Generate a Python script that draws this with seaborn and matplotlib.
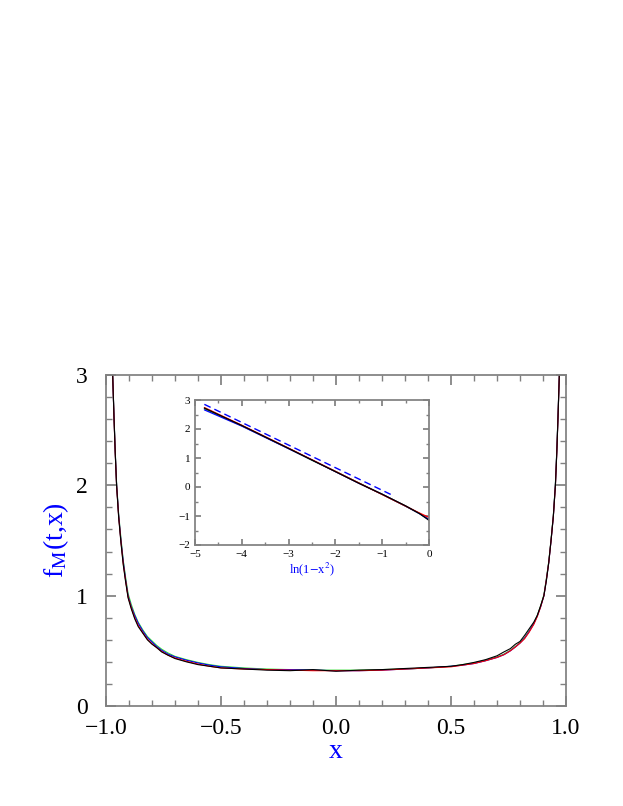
import numpy as np
import pandas as pd
import matplotlib
matplotlib.use("Agg")
import matplotlib.pyplot as plt
import seaborn as sns
from matplotlib.ticker import MultipleLocator

sns.set_theme(style="ticks")
plt.rcParams['font.family'] = ['Liberation Serif', 'DejaVu Serif']
plt.rcParams['mathtext.fontset'] = 'stix'

x_main = [-0.975, -0.971, -0.965, -0.96, -0.954, -0.945, -0.935, -0.925, -0.915, -0.904,
          -0.89, -0.875, -0.86, -0.84, -0.82, -0.8, -0.78, -0.758, -0.73, -0.7,
          -0.65, -0.6, -0.55, -0.5, -0.4, -0.3, -0.2, -0.1, 0.0,
          0.1, 0.2, 0.3, 0.4, 0.5, 0.55, 0.6, 0.65, 0.7, 0.73,
          0.758, 0.78, 0.8, 0.82, 0.84, 0.86, 0.875, 0.89, 0.904, 0.915,
          0.925, 0.935, 0.945, 0.954, 0.96, 0.965, 0.971, 0.975]
y_black = [3.4, 3.0, 2.6, 2.3, 2.0, 1.71, 1.48, 1.28, 1.13, 0.98,
           0.88, 0.79, 0.72, 0.66, 0.6, 0.56, 0.53, 0.49, 0.46, 0.43,
           0.4, 0.375, 0.36, 0.345, 0.335, 0.325, 0.32, 0.33, 0.315,
           0.325, 0.33, 0.34, 0.35, 0.36, 0.375, 0.395, 0.42, 0.455, 0.49,
           0.52, 0.56, 0.585, 0.64, 0.7, 0.76, 0.82, 0.91, 1.0, 1.14,
           1.3, 1.5, 1.72, 2.0, 2.3, 2.6, 3.0, 3.4]
y_red = [3.4, 3.0, 2.6, 2.3, 2.0, 1.72, 1.49, 1.29, 1.14, 0.99,
         0.89, 0.8, 0.73, 0.665, 0.605, 0.565, 0.53, 0.495, 0.46, 0.435,
         0.405, 0.38, 0.36, 0.345, 0.335, 0.33, 0.325, 0.32, 0.32,
         0.32, 0.325, 0.335, 0.345, 0.355, 0.37, 0.385, 0.41, 0.44, 0.465,
         0.5, 0.535, 0.57, 0.61, 0.67, 0.74, 0.81, 0.9, 1.0, 1.15,
         1.3, 1.5, 1.72, 2.0, 2.3, 2.6, 3.0, 3.4]
y_green = [3.4, 3.0, 2.62, 2.32, 2.02, 1.74, 1.52, 1.32, 1.17, 1.02,
           0.92, 0.83, 0.76, 0.69, 0.63, 0.59, 0.55, 0.515, 0.48, 0.45,
           0.42, 0.395, 0.375, 0.36, 0.345, 0.335, 0.33, 0.325, 0.325,
           0.325, 0.33, 0.335, 0.345, 0.36, 0.375, 0.39, 0.415, 0.445, 0.47,
           0.505, 0.54, 0.575, 0.62, 0.68, 0.75, 0.82, 0.91, 1.01, 1.16,
           1.31, 1.51, 1.73, 2.02, 2.32, 2.62, 3.0, 3.4]
y_blue = [3.4, 3.0, 2.61, 2.31, 2.01, 1.73, 1.5, 1.31, 1.15, 1.0,
          0.9, 0.82, 0.75, 0.68, 0.62, 0.58, 0.54, 0.505, 0.47, 0.445,
          0.415, 0.39, 0.37, 0.355, 0.34, 0.33, 0.33, 0.325, 0.32,
          0.32, 0.325, 0.335, 0.345, 0.36, 0.37, 0.385, 0.41, 0.44, 0.465,
          0.5, 0.535, 0.57, 0.615, 0.675, 0.745, 0.815, 0.9, 1.0, 1.15,
          1.3, 1.5, 1.72, 2.01, 2.31, 2.61, 3.0, 3.4]

inset_x = [-4.8, -4.0, -3.0, -2.5, -2.0, -1.5, -1.0, -0.5, -0.2, 0.0]
inset_black = [2.72, 2.12, 1.33, 0.93, 0.53, 0.13, -0.25, -0.65, -0.92, -1.15]
inset_red = [2.74, 2.13, 1.34, 0.94, 0.54, 0.14, -0.26, -0.66, -0.9, -1.05]
inset_green = [2.7, 2.11, 1.33, 0.92, 0.54, 0.14, -0.25, -0.66, -0.92, -1.12]
inset_blue = [2.66, 2.1, 1.32, 0.93, 0.53, 0.13, -0.25, -0.66, -0.92, -1.12]
dash_x = [-4.8, -0.8]
dash_y = [2.85, -0.27]

colors = {"black": "black", "red": "red", "green": "#33dd33", "blue": "blue"}

main = pd.concat([pd.DataFrame({"x": x_main, "y": v, "s": k})
                  for k, v in [("green", y_green), ("blue", y_blue), ("red", y_red), ("black", y_black)]])
ins = pd.concat([pd.DataFrame({"x": inset_x, "y": v, "s": k})
                 for k, v in [("green", inset_green), ("blue", inset_blue), ("red", inset_red), ("black", inset_black)]])

fig = plt.figure(figsize=(6.23, 8.06), dpi=100)
ax = fig.add_axes([106/623, 100/806, 460/623, 331/806])
sns.lineplot(data=main, x="x", y="y", hue="s", palette=colors, lw=0.8, ax=ax, legend=False, sort=False)
ax.set_xlim(-1, 1)
ax.set_ylim(0, 3)
ax.set_xticks([-1, -0.5, 0, 0.5, 1])
ax.set_xticklabels(["\u22121.0", "\u22120.5", "0.0", "0.5", "1.0"])
ax.set_yticks([0, 1, 2, 3])
ax.set_yticklabels(["0", "1", "2", "3"])
ax.xaxis.set_minor_locator(MultipleLocator(0.1))
ax.yaxis.set_minor_locator(MultipleLocator(0.2))
ax.tick_params(which="both", direction="in", top=True, right=True, colors="gray", labelcolor="black", labelsize=17)
ax.tick_params(which="major", length=7)
ax.tick_params(which="minor", length=4)
ax.tick_params(axis="y", pad=13)
ax.tick_params(axis="x", pad=9)
for s in ax.spines.values():
    s.set_color("gray")
ax.set_xlabel("x", color="blue", fontsize=20, labelpad=0)
ax.set_ylabel(r"f$_{\rm M}$(t,x)", color="blue", fontsize=20, labelpad=4)

ia = fig.add_axes([195/623, 261/806, 234/623, 145/806])
sns.lineplot(data=ins, x="x", y="y", hue="s", palette=colors, lw=0.9, ax=ia, legend=False, sort=False)
ia.plot(dash_x, dash_y, color="blue", ls=(0, (5, 3)), lw=1.0)
ia.set_xlim(-5, 0)
ia.set_ylim(-2, 3)
ia.set_xticks([-5, -4, -3, -2, -1, 0])
ia.set_xticklabels(["\u22125", "\u22124", "\u22123", "\u22122", "\u22121", "0"])
ia.set_yticks([-2, -1, 0, 1, 2, 3])
ia.set_yticklabels(["\u22122", "\u22121", "0", "1", "2", "3"])
ia.xaxis.set_minor_locator(MultipleLocator(0.5))
ia.yaxis.set_minor_locator(MultipleLocator(0.5))
ia.tick_params(which="both", direction="in", top=True, right=True, colors="gray", labelcolor="black", labelsize=8)
ia.tick_params(which="major", length=4)
ia.tick_params(which="minor", length=2)
for s in ia.spines.values():
    s.set_color("gray")
ia.set_xlabel(r"ln(1$-$x$^2$)", color="blue", fontsize=9, labelpad=1)
ia.set_ylabel("")

fig.savefig("out.png", dpi=100)
